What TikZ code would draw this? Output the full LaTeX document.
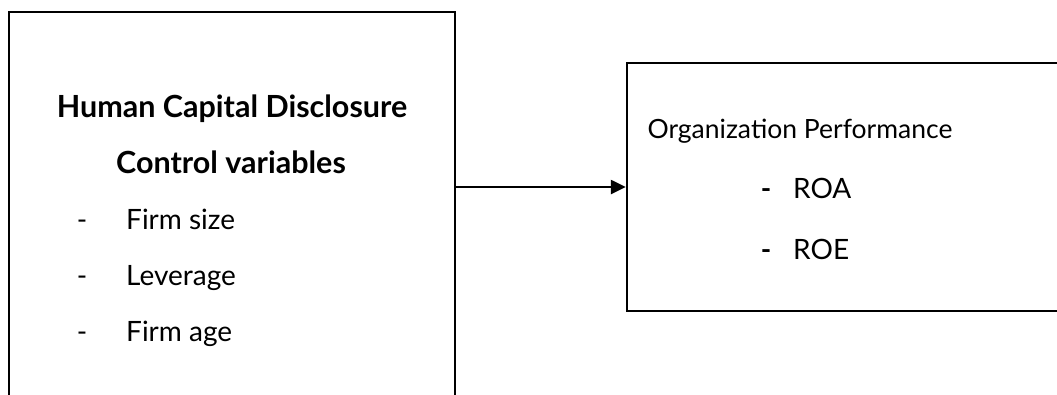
\documentclass[tikz,border=0pt]{standalone}
\usepackage{fontspec}
\setmainfont{Lato}
\usetikzlibrary{arrows.meta}

\tikzset{
    frame/.style={draw, line width=2.4pt, rectangle, inner sep=0pt},
    head/.style={anchor=base, inner sep=0pt, font=\fontsize{30.5}{34}\selectfont\bfseries},
    item/.style={anchor=base west, inner sep=0pt, font=\fontsize{28}{32}\selectfont},
    dashmark/.style={anchor=base, inner sep=0pt, font=\fontsize{28}{32}\selectfont},
    link/.style={line width=2.4pt, -{Triangle[length=15pt,width=14pt]}}
}

\begin{document}
\begin{tikzpicture}[x=1pt, y=-1pt]
    \useasboundingbox (0,0) rectangle (1057,394);
    \clip (0,0) rectangle (1057,394);

    \node[frame, minimum width=446pt, minimum height=438pt] (hcd) at (232,231) {};
    \node[frame, minimum width=473pt, minimum height=248pt] (perf) at (863.5,187) {};

    \node[head] (hcdtitle) at (232,117) {Human Capital Disclosure};
    \node[head] (ctrltitle) at (231,173) {Control variables};
    \node[dashmark] (d1) at (82,229) {-};
    \node[item] (size) at (126,229) {Firm size};
    \node[dashmark] (d2) at (82,285) {-};
    \node[item] (lev) at (126,285) {Leverage};
    \node[dashmark] (d3) at (82,341) {-};
    \node[item] (age) at (126,341) {Firm age};

    \node[head, font=\fontsize{26.5}{30}\selectfont] (perftitle) at (800,138) {Organization Performance};
    \node[dashmark, font=\fontsize{28}{32}\selectfont\bfseries] (d4) at (766,198) {-};
    \node[item] (roa) at (793,198) {ROA};
    \node[dashmark, font=\fontsize{28}{32}\selectfont\bfseries] (d5) at (766,259) {-};
    \node[item] (roe) at (793,259) {ROE};

    \draw[link] (hcd.east |- perf.west) -- (perf.west);
\end{tikzpicture}
\end{document}
